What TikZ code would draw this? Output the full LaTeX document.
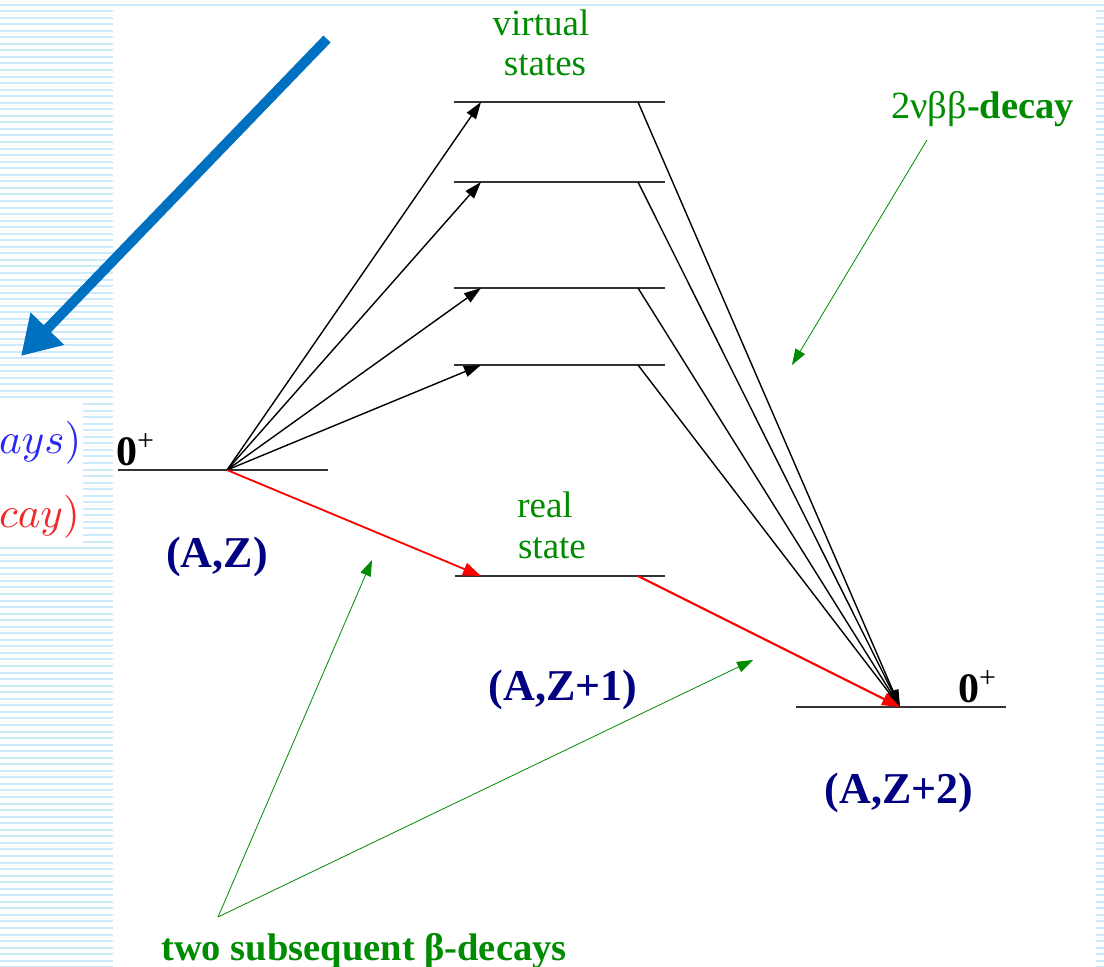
\documentclass[tikz,border=0pt]{standalone}
\usepackage{fontspec}
\setmainfont{Liberation Serif}
\usetikzlibrary{arrows.meta}
\definecolor{stripe}{RGB}{205,234,250}
\definecolor{dgreen}{RGB}{0,140,0}
\definecolor{navy}{RGB}{0,0,128}
\definecolor{bigblue}{RGB}{0,112,192}
\definecolor{mblue}{RGB}{40,40,240}
\definecolor{mred}{RGB}{240,40,40}
\tikzset{
  level/.style={draw=black!80, line width=1.5pt},
  blackarrow/.style={draw=black, line width=1.4pt, -{Triangle[length=17pt,width=11pt]}},
  redarrow/.style={draw=red, line width=1.8pt, -{Triangle[length=18pt,width=13pt]}},
  greenarrow/.style={draw=dgreen, line width=0.8pt, -{Triangle[length=16pt,width=11pt]}},
  greenlabel/.style={text=dgreen, inner sep=0pt, anchor=base, font=\fontsize{37}{40}\selectfont},
  statelabel/.style={text=navy, inner sep=0pt, anchor=base, font=\fontsize{44}{48}\selectfont\bfseries},
  spinlabel/.style={text=black, inner sep=0pt, anchor=base west, font=\fontsize{42}{46}\selectfont},
  mathlabel/.style={inner sep=0pt, anchor=base west},
}
\begin{document}
\begin{tikzpicture}[x=1pt,y=-1pt]
\useasboundingbox (0,0) rectangle (1104,967);
\fill[white] (0,0) rectangle (1104,967);
% background stripes
\draw[stripe, line width=2pt] (0,5) -- (1104,5);
\foreach \i in {0,...,146} {
  \draw[stripe, line width=2pt] (0,{11+6.55*\i}) -- (113,{11+6.55*\i});
  \draw[stripe, line width=2pt] (1096,{11+6.55*\i}) -- (1104,{11+6.55*\i});
}
\fill[white] (0,402) rectangle (83,547);
\node[mathlabel, text=mblue] (tb) at (-1,453) {\scalebox{4.3}{$ays)$}};
\node[mathlabel, text=mred] (tr) at (-1,527) {\scalebox{4.3}{$cay)$}};
% big blue arrow
\coordinate (bs) at (327,39);
\coordinate (bt) at (21,356);
\draw[bigblue, line width=10pt, -{Triangle[length=38pt,width=44pt]}] (bs) -- (bt);
% levels
\coordinate (iL) at (118,470);
\coordinate (iR) at (328,470);
\coordinate (i0) at (227,470);
\draw[level] (iL) -- (iR);
\foreach \n/\y in {1/102,2/182,3/288,4/365} {
  \coordinate (vL\n) at (454,\y);
  \coordinate (vR\n) at (665,\y);
  \coordinate (vin\n) at (481,\y);
  \coordinate (vout\n) at (638,\y);
  \draw[level] (vL\n) -- (vR\n);
}
\coordinate (rL) at (455,576);
\coordinate (rR) at (665,576);
\coordinate (rin) at (481,576);
\coordinate (rout) at (638,576);
\draw[level] (rL) -- (rR);
\coordinate (fL) at (796,707);
\coordinate (fR) at (1006,707);
\coordinate (f0) at (900,707);
\draw[level] (fL) -- (fR);
% transitions
\foreach \n in {1,2,3,4} {
  \draw[blackarrow] (i0) -- (vin\n);
  \draw[blackarrow] (vout\n) -- (f0);
}
\draw[redarrow] (i0) -- (rin);
\draw[redarrow, line width=2.2pt] (rout) -- (f0);
% labels
\node[spinlabel] (s1) at (116,465) {\textbf{0}\raisebox{15pt}{\fontsize{30}{32}\selectfont +}};
\node[spinlabel] (s2) at (958,702) {\textbf{0}\raisebox{15pt}{\fontsize{30}{32}\selectfont +}};
\node[statelabel] (az) at (217,567) {(A,Z)};
\node[statelabel] (az1) at (563,700) {(A,Z+1)};
\node[statelabel] (az2) at (899,803) {(A,Z+2)};
\node[greenlabel] (virt1) at (541,35) {virtual};
\node[greenlabel] (virt2) at (545,75) {states};
\node[greenlabel] (real1) at (545,517) {real};
\node[greenlabel] (real2) at (552,558) {state};
\node[text=dgreen, inner sep=0pt, anchor=base west, font=\fontsize{38.5}{42}\selectfont] (dbd) at (891,118) {2νββ\textbf{-decay}};
\node[text=dgreen, inner sep=0pt, anchor=base, font=\fontsize{38.5}{42}\selectfont\bfseries] (two) at (364,960) {two subsequent β-decays};
% pointers
\coordinate (dbdp) at (927,140);
\coordinate (dbdt) at (792,365);
\draw[greenarrow] (dbdp) -- (dbdt);
\coordinate (apex) at (218,917);
\coordinate (t1) at (372,560);
\coordinate (t2) at (753,660);
\draw[greenarrow] (apex) -- (t1);
\draw[greenarrow] (apex) -- (t2);
\end{tikzpicture}
\end{document}
